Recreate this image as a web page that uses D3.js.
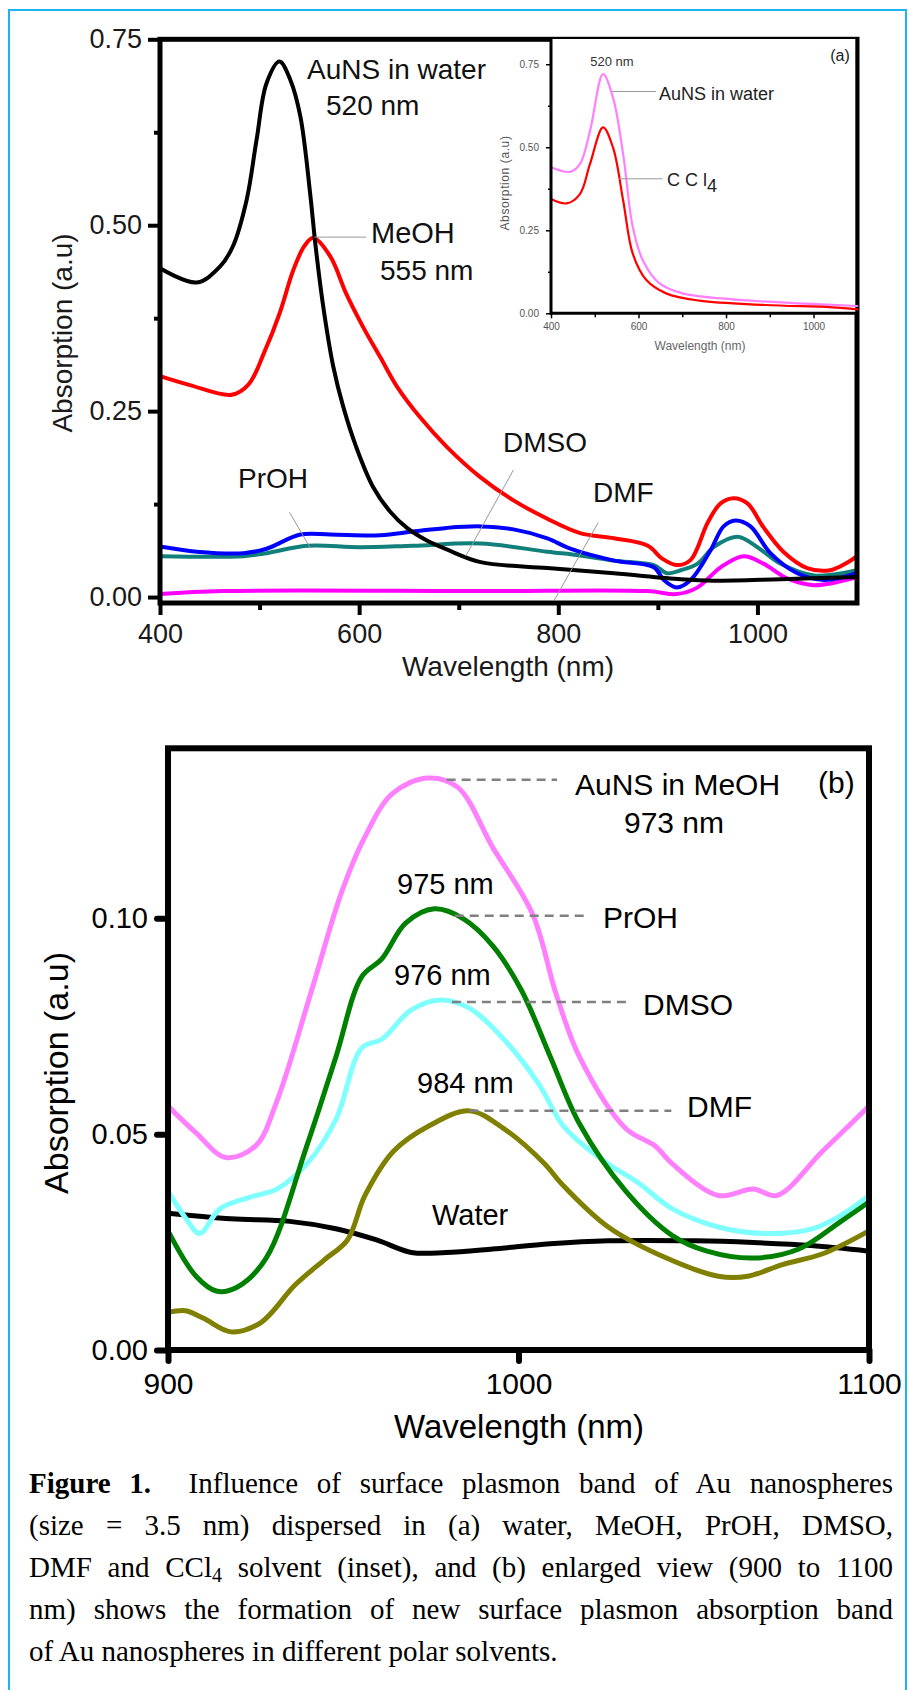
<!DOCTYPE html>
<html>
<head>
<meta charset="utf-8">
<script src="https://cdn.jsdelivr.net/npm/d3@7"></script>
<style>
  body { margin: 0; background: #fff; }
  #wrap { position: relative; width: 909px; height: 1690px; overflow: hidden; }
  #fig { position: absolute; left: 0; top: 0; }
  #caption { position: absolute; left: 29px; top: 1462px; width: 864px;
             font-family: "Liberation Serif", "Times New Roman", serif;
             font-size: 29px; line-height: 42px; color: #000; }
  #caption .j { text-align: justify; text-align-last: justify; }
  #caption sub { font-size: 20px; line-height: 0; vertical-align: -5px; }
</style>
</head>
<body>
<div id="wrap">
  <svg id="fig" width="909" height="1690"></svg>
  <div id="caption">
    <div class="j"><b>Figure 1.</b>&nbsp; Influence of surface plasmon band of Au nanospheres</div>
    <div class="j">(size = 3.5 nm) dispersed in (a) water, MeOH, PrOH, DMSO,</div>
    <div class="j">DMF and CCl<sub>4</sub> solvent (inset), and (b) enlarged view (900 to 1100</div>
    <div class="j">nm) shows the formation of new surface plasmon absorption band</div>
    <div>of Au nanospheres in different polar solvents.</div>
  </div>
</div>
<script>
/*
    PANEL (a) DATA  -- wavelength (nm) / absorption (a.u)
*/
var aWaterWl  = [400, 437, 460, 473, 487, 497, 507, 520, 531, 541, 551, 556, 564, 574, 584, 597, 614, 631, 648, 668, 688, 722, 789, 856, 923, 956, 1023, 1100];
var aWaterAbs = [0.442, 0.423, 0.444, 0.471, 0.534, 0.615, 0.691, 0.720, 0.695, 0.646, 0.540, 0.475, 0.390, 0.310, 0.256, 0.202, 0.148, 0.115, 0.093, 0.076, 0.064, 0.047, 0.039, 0.032, 0.024, 0.022, 0.024, 0.027];

var aMeohWl  = [400, 430, 472, 489, 505, 520, 534, 545, 554, 571, 587, 604, 621, 638, 661, 688, 721, 755, 788, 822, 856, 890, 904, 919, 933, 950, 963, 976, 990, 1006, 1026, 1050, 1073, 1090, 1100];
var aMeohAbs = [0.297, 0.285, 0.272, 0.286, 0.330, 0.381, 0.440, 0.472, 0.483, 0.458, 0.408, 0.363, 0.323, 0.283, 0.242, 0.202, 0.162, 0.130, 0.106, 0.086, 0.079, 0.069, 0.052, 0.043, 0.050, 0.100, 0.126, 0.133, 0.126, 0.094, 0.061, 0.039, 0.036, 0.046, 0.055];

var aProhWl  = [400, 437, 484, 507, 541, 571, 621, 654, 688, 722, 755, 789, 812, 856, 896, 906, 919, 933, 953, 966, 978, 993, 1013, 1040, 1067, 1100];
var aProhAbs = [0.068, 0.061, 0.059, 0.065, 0.084, 0.084, 0.083, 0.088, 0.093, 0.095, 0.091, 0.079, 0.065, 0.049, 0.040, 0.023, 0.013, 0.023, 0.063, 0.095, 0.103, 0.095, 0.059, 0.032, 0.023, 0.032];

var aDmsoWl  = [400, 484, 507, 548, 600, 654, 722, 789, 822, 856, 896, 909, 923, 940, 956, 980, 1000, 1023, 1057, 1100];
var aDmsoAbs = [0.055, 0.055, 0.059, 0.069, 0.067, 0.069, 0.072, 0.061, 0.056, 0.049, 0.043, 0.032, 0.036, 0.045, 0.067, 0.081, 0.067, 0.045, 0.029, 0.036];

var aDmfWl  = [400, 463, 722, 890, 919, 940, 963, 986, 1006, 1030, 1057, 1100];
var aDmfAbs = [0.004, 0.008, 0.008, 0.008, 0.004, 0.013, 0.040, 0.055, 0.045, 0.025, 0.016, 0.027];

var aXTicks = [400, 600, 800, 1000];
var aXMinor = [500, 700, 900];
var aYTicks = [0, 0.25, 0.50, 0.75];
var aYMinor = [0.125, 0.375, 0.625];

// inset: water vs CCl4
var inWaterWl  = [400, 444, 466, 489, 519, 542, 565, 587, 610, 648, 701, 815, 966, 1100];
var inWaterAbs = [0.440, 0.426, 0.449, 0.548, 0.720, 0.648, 0.478, 0.259, 0.159, 0.090, 0.060, 0.042, 0.030, 0.022];
var inCclWl  = [400, 436, 466, 489, 519, 542, 565, 587, 618, 663, 739, 890, 1042, 1100];
var inCclAbs = [0.344, 0.331, 0.359, 0.449, 0.560, 0.498, 0.339, 0.179, 0.100, 0.060, 0.038, 0.025, 0.018, 0.012];
var inXTicks = [400, 600, 800, 1000];
var inXMinor = [500, 700, 900];
var inYTicks = [0, 0.25, 0.50, 0.75];
var inYMinor = [0.125, 0.375, 0.625];

/*
    PANEL (b) DATA  -- enlarged 900-1100 nm
*/
var bMeohWl  = [900, 908, 916.5, 925, 931, 941, 949.5, 956, 964, 974, 982.6, 992.6, 1004, 1010.8, 1017.4, 1030.6, 1038.9, 1043.9, 1057, 1067, 1073.7, 1086.8, 1100];
var bMeohAbs = [0.0565, 0.0503, 0.0446, 0.0473, 0.0575, 0.0834, 0.106, 0.1186, 0.1289, 0.1325, 0.1304, 0.1165, 0.101, 0.0823, 0.0679, 0.0513, 0.0473, 0.0431, 0.0358, 0.0373, 0.0358, 0.0461, 0.0565];

var bProhWl  = [900, 908, 914, 919.8, 928, 939.6, 947.9, 955.3, 961, 967.8, 976, 984.3, 992.6, 1000.8, 1009.1, 1017.4, 1030.6, 1043.9, 1053.8, 1067, 1080, 1091.8, 1100];
var bProhAbs = [0.0276, 0.0171, 0.0136, 0.0146, 0.0213, 0.0473, 0.0679, 0.0865, 0.0906, 0.0989, 0.1022, 0.0999, 0.0937, 0.0834, 0.0679, 0.0524, 0.0368, 0.0265, 0.0229, 0.0213, 0.0234, 0.0297, 0.0343];

var bDmsoWl  = [900, 905, 909, 914.8, 923, 931.3, 939.6, 947.9, 955.3, 961, 969.4, 977.7, 986, 995.8, 1005.8, 1012.3, 1017.4, 1025.6, 1033.9, 1043.9, 1057, 1070, 1083.5, 1091.8, 1100];
var bDmsoAbs = [0.0368, 0.0306, 0.0270, 0.0327, 0.0353, 0.0374, 0.0431, 0.0534, 0.0700, 0.0720, 0.0788, 0.0811, 0.0792, 0.0720, 0.0616, 0.0524, 0.0482, 0.0431, 0.0389, 0.0327, 0.0285, 0.0270, 0.0280, 0.0311, 0.0358];

var bDmfWl  = [900, 905, 910, 918, 926.4, 936.3, 944.6, 951.2, 956.2, 964.4, 974.4, 986, 995.8, 1007.5, 1012.3, 1025.6, 1042.2, 1057, 1065.4, 1075.3, 1086.8, 1100];
var bDmfAbs = [0.0087, 0.0091, 0.0074, 0.0042, 0.0063, 0.0151, 0.0209, 0.0255, 0.0358, 0.0461, 0.0519, 0.0554, 0.0513, 0.0431, 0.0385, 0.0285, 0.0213, 0.0171, 0.0171, 0.0198, 0.0223, 0.0276];

var bWaterWl  = [900, 918, 934.7, 947.9, 959.5, 969.4, 979.3, 992.6, 1009, 1025.6, 1050.5, 1067, 1083.5, 1100];
var bWaterAbs = [0.0317, 0.0304, 0.0298, 0.0281, 0.0255, 0.0226, 0.0226, 0.0234, 0.0246, 0.0253, 0.0253, 0.0249, 0.0242, 0.0229];

var bXTicks = [900, 1000, 1100];
var bYTicks = [0, 0.05, 0.10];

/*
    DRAWING HELPERS
*/
var svg = d3.select("#fig");
var sans = "'Liberation Sans', Arial, sans-serif";

function pairs(wl, ab) { return wl.map(function(w, i) { return [w, ab[i]]; }); }

function drawSeries(g, x, y, wl, ab, color, width) {
  var line = d3.line()
      .x(function(d) { return x(d[0]); })
      .y(function(d) { return y(d[1]); })
      .curve(d3.curveCatmullRom.alpha(0.5));
  g.append("path")
    .datum(pairs(wl, ab))
    .attr("fill", "none")
    .attr("stroke", color)
    .attr("stroke-width", width)
    .attr("stroke-linejoin", "round")
    .attr("stroke-linecap", "round")
    .attr("d", line);
}

function label(g, x, y, str, size, opts) {
  opts = opts || {};
  return g.append("text")
    .attr("x", x).attr("y", y)
    .attr("font-family", sans)
    .attr("font-size", size)
    .attr("fill", opts.fill || "#111")
    .attr("text-anchor", opts.anchor || "start")
    .text(str);
}

function styleAxis(ax, tickW, fontSize, color, cap) {
  ax.select(".domain").remove();
  ax.selectAll(".tick line").attr("stroke", "#000").attr("stroke-width", tickW).attr("stroke-linecap", cap || "butt");
  ax.selectAll(".tick text").attr("font-family", sans).attr("font-size", fontSize).attr("fill", color);
}

// outer cyan box
svg.append("rect")
  .attr("x", 9).attr("y", 10).attr("width", 897).attr("height", 1700)
  .attr("fill", "none").attr("stroke", "#1db3ee").attr("stroke-width", 2);

/*
    PANEL (a)
*/
var xA = d3.scaleLinear().domain([400, 1100]).range([160, 857]);
var yA = d3.scaleLinear().domain([-0.008, 0.75]).range([603, 39.3]);
var gA = svg.append("g");

drawSeries(gA, xA, yA, aDmfWl, aDmfAbs, "#ff00ff", 4);
drawSeries(gA, xA, yA, aDmsoWl, aDmsoAbs, "#11807a", 4);
drawSeries(gA, xA, yA, aProhWl, aProhAbs, "#0000ff", 4);
drawSeries(gA, xA, yA, aMeohWl, aMeohAbs, "#ff0000", 4);
drawSeries(gA, xA, yA, aWaterWl, aWaterAbs, "#000000", 4);

var ayMaj = gA.append("g").attr("transform", "translate(160,0)")
  .call(d3.axisLeft(yA).tickValues(aYTicks).tickFormat(d3.format(".2f")).tickSize(12).tickPadding(6));
styleAxis(ayMaj, 4, 27, "#1a1a1a");
var ayMin = gA.append("g").attr("transform", "translate(160,0)")
  .call(d3.axisLeft(yA).tickValues(aYMinor).tickFormat("").tickSize(6));
styleAxis(ayMin, 4, 27, "#1a1a1a");
var axMaj = gA.append("g").attr("transform", "translate(0,603)")
  .call(d3.axisBottom(xA).tickValues(aXTicks).tickFormat(d3.format("d")).tickSize(12).tickPadding(9));
styleAxis(axMaj, 4, 27, "#1a1a1a");
var axMin = gA.append("g").attr("transform", "translate(0,603)")
  .call(d3.axisBottom(xA).tickValues(aXMinor).tickFormat("").tickSize(7));
styleAxis(axMin, 4, 27, "#1a1a1a");

gA.append("rect")
  .attr("x", xA(400)).attr("y", yA(0.75))
  .attr("width", xA(1100) - xA(400)).attr("height", yA(-0.008) - yA(0.75))
  .attr("fill", "none").attr("stroke", "#000").attr("stroke-width", 5);

label(gA, 508, 676, "Wavelength (nm)", 28, {anchor: "middle", fill: "#1a1a1a"});
gA.append("text")
  .attr("transform", "translate(72,333) rotate(-90)")
  .attr("text-anchor", "middle")
  .attr("font-family", sans).attr("font-size", 28).attr("fill", "#1a1a1a")
  .text("Absorption (a.u)");

// curve labels with thin leader lines
var aLeaders = [
  [[555, 0.484], [607, 0.484]],
  [[530, 0.114], [551, 0.066]],
  [[755, 0.171], [707, 0.055]],
  [[840, 0.100], [796, -0.004]]
];
aLeaders.forEach(function(l) {
  gA.append("line")
    .attr("x1", xA(l[0][0])).attr("y1", yA(l[0][1]))
    .attr("x2", xA(l[1][0])).attr("y2", yA(l[1][1]))
    .attr("stroke", "#999").attr("stroke-width", 1);
});
label(gA, 307, 79, "AuNS in water", 28);
label(gA, 326, 115, "520 nm", 28);
label(gA, 371, 243, "MeOH", 29);
label(gA, 380, 280, "555 nm", 28);
label(gA, 238, 488, "PrOH", 28);
label(gA, 503, 452, "DMSO", 28);
label(gA, 593, 502, "DMF", 28);

/*
    INSET of panel (a)
*/
var xIn = d3.scaleLinear().domain([400, 1100]).range([551, 857.3]);
var yIn = d3.scaleLinear().domain([0, 0.826]).range([313.3, 39]);
var gIn = svg.append("g");

gIn.append("rect")
  .attr("x", xIn(400)).attr("y", yIn(0.826))
  .attr("width", xIn(1100) - xIn(400) - 2).attr("height", yIn(0) - yIn(0.826))
  .attr("fill", "#fff");

drawSeries(gIn, xIn, yIn, inWaterWl, inWaterAbs, "#ff80ff", 2.2);
drawSeries(gIn, xIn, yIn, inCclWl, inCclAbs, "#ff0000", 2.2);

var iyMaj = gIn.append("g").attr("transform", "translate(" + xIn(400) + ",0)")
  .call(d3.axisLeft(yIn).tickValues(inYTicks).tickFormat(d3.format(".2f")).tickSize(5).tickPadding(7));
styleAxis(iyMaj, 1.5, 10, "#555");
var iyMin = gIn.append("g").attr("transform", "translate(" + xIn(400) + ",0)")
  .call(d3.axisLeft(yIn).tickValues(inYMinor).tickFormat("").tickSize(3));
styleAxis(iyMin, 1.5, 10, "#555");
var ixMaj = gIn.append("g").attr("transform", "translate(0," + yIn(0) + ")")
  .call(d3.axisBottom(xIn).tickValues(inXTicks).tickFormat(d3.format("d")).tickSize(5).tickPadding(5));
styleAxis(ixMaj, 1.5, 10, "#555");
var ixMin = gIn.append("g").attr("transform", "translate(0," + yIn(0) + ")")
  .call(d3.axisBottom(xIn).tickValues(inXMinor).tickFormat("").tickSize(4));
styleAxis(ixMin, 1.5, 10, "#555");

gIn.append("line")
  .attr("x1", xIn(400)).attr("y1", yIn(0.826)).attr("x2", xIn(400)).attr("y2", yIn(0) + 1.5)
  .attr("stroke", "#000").attr("stroke-width", 3);
gIn.append("line")
  .attr("x1", xIn(400)).attr("y1", yIn(0)).attr("x2", xIn(1100)).attr("y2", yIn(0))
  .attr("stroke", "#000").attr("stroke-width", 3);

label(gIn, 700, 350, "Wavelength (nm)", 12, {anchor: "middle", fill: "#666"});
gIn.append("text")
  .attr("transform", "translate(509,183) rotate(-90)")
  .attr("text-anchor", "middle")
  .attr("font-family", sans).attr("font-size", 12).attr("letter-spacing", 0.6).attr("fill", "#555")
  .text("Absorption (a.u)");

var inLeaders = [
  [[540, 0.668], [640, 0.668]],
  [[555, 0.405], [655, 0.405]]
];
inLeaders.forEach(function(l) {
  gIn.append("line")
    .attr("x1", xIn(l[0][0])).attr("y1", yIn(l[0][1]))
    .attr("x2", xIn(l[1][0])).attr("y2", yIn(l[1][1]))
    .attr("stroke", "#999").attr("stroke-width", 1);
});
label(gIn, 612, 66, "520 nm", 13, {anchor: "middle", fill: "#333"});
label(gIn, 659, 100, "AuNS in water", 18, {fill: "#222"});
var ccl = label(gIn, 667, 186, "C C l", 18, {fill: "#222"});
ccl.append("tspan").attr("dy", 6).text("4");
label(gIn, 840, 61, "(a)", 16, {anchor: "middle", fill: "#222"});

/*
    PANEL (b)
*/
var xB = d3.scaleLinear().domain([900, 1100]).range([168, 869]);
var yB = d3.scaleLinear().domain([0, 0.1394]).range([1350, 748.3]);
var gB = svg.append("g");

drawSeries(gB, xB, yB, bWaterWl, bWaterAbs, "#000000", 5);
drawSeries(gB, xB, yB, bMeohWl, bMeohAbs, "#ff80ff", 5);
drawSeries(gB, xB, yB, bDmsoWl, bDmsoAbs, "#80ffff", 5);
drawSeries(gB, xB, yB, bProhWl, bProhAbs, "#008000", 5);
drawSeries(gB, xB, yB, bDmfWl, bDmfAbs, "#808000", 5);

gB.append("rect")
  .attr("x", xB(900)).attr("y", yB(0.1394))
  .attr("width", xB(1100) - xB(900)).attr("height", yB(0) - yB(0.1394))
  .attr("fill", "none").attr("stroke", "#000").attr("stroke-width", 6);

var by = gB.append("g").attr("transform", "translate(" + xB(900) + ",0)")
  .call(d3.axisLeft(yB).tickValues(bYTicks).tickFormat(d3.format(".2f")).tickSize(11).tickPadding(9));
styleAxis(by, 6, 29, "#000", "round");
var bx = gB.append("g").attr("transform", "translate(0," + yB(0) + ")")
  .call(d3.axisBottom(xB).tickValues(bXTicks).tickFormat(d3.format("d")).tickSize(11).tickPadding(12));
styleAxis(bx, 6, 30, "#000", "round");

label(gB, 519, 1438, "Wavelength (nm)", 33, {anchor: "middle", fill: "#000"});
gB.append("text")
  .attr("transform", "translate(68,1073) rotate(-90)")
  .attr("text-anchor", "middle")
  .attr("font-family", sans).attr("font-size", 34).attr("fill", "#000")
  .text("Absorption (a.u)");

// dashed leaders from the peaks to the solvent names
var bLeaders = [
  [979.5, 1011, 0.1321],
  [981.8, 1019.4, 0.1006],
  [981, 1031.7, 0.0806],
  [986, 1043.6, 0.0554]
];
bLeaders.forEach(function(l) {
  gB.append("line")
    .attr("x1", xB(l[0])).attr("x2", xB(l[1]))
    .attr("y1", yB(l[2])).attr("y2", yB(l[2]))
    .attr("stroke", "#808080").attr("stroke-width", 2.5)
    .attr("stroke-dasharray", "9,6");
});
label(gB, 575, 795, "AuNS in MeOH", 30, {fill: "#000"});
label(gB, 674, 833, "973 nm", 30, {anchor: "middle", fill: "#000"});
label(gB, 818, 793, "(b)", 30, {fill: "#000"});
label(gB, 603, 928, "PrOH", 30, {fill: "#000"});
label(gB, 643, 1015, "DMSO", 30, {fill: "#000"});
label(gB, 687, 1117, "DMF", 30, {fill: "#000"});
label(gB, 397, 894, "975 nm", 29, {fill: "#000"});
label(gB, 394, 985, "976 nm", 29, {fill: "#000"});
label(gB, 417, 1093, "984 nm", 29, {fill: "#000"});
label(gB, 432, 1225, "Water", 29, {fill: "#000"});
</script>
</body>
</html>
